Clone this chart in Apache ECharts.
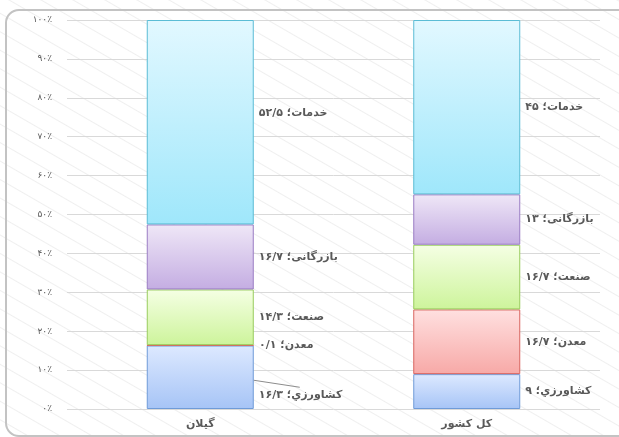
<!DOCTYPE html>
<html>
<head>
<meta charset="utf-8">
<script src="https://cdn.jsdelivr.net/npm/echarts@6/dist/echarts.min.js"></script>
<style>
  html, body { margin: 0; padding: 0; background: #fff; }
  #wrap {
    position: relative; width: 619px; height: 437px; overflow: hidden;
    background: repeating-linear-gradient(30deg, #fff 0px, #fff 14px, #efefef 15px, #fff 16px);
  }
  #frame {
    position: absolute; left: 5px; top: 9px; width: 650px; height: 424px;
    border: 2px solid #c3c3c3; border-radius: 14px;
  }
  #main { position: absolute; left: 0; top: 0; width: 619px; height: 437px; }
</style>
</head>
<body>
<div id="wrap">
  <div id="frame"></div>
  <div id="main"></div>
</div>
<script>
const categories = ['گیلان', 'کل کشور'];
const sectors = ['کشاورزي', 'معدن', 'صنعت', 'بازرگانی', 'خدمات'];
// raw shares per region, in sector order
const gilanValues = [16.3, 0.1, 14.3, 16.7, 52.5];
const countryValues = [9, 16.7, 16.7, 13, 45];
const gilanLabels = ['۱۶/۳', '۰/۱', '۱۴/۳', '۱۶/۷', '۵۲/۵'];
const countryLabels = ['۹', '۱۶/۷', '۱۶/۷', '۱۳', '۴۵'];
const yTicks = ['۰٪', '۱۰٪', '۲۰٪', '۳۰٪', '۴۰٪', '۵۰٪', '۶۰٪', '۷۰٪', '۸۰٪', '۹۰٪', '۱۰۰٪'];

const colors = [
  {top: '#dde9ff', bottom: '#a6c4f6', border: '#6f9bd8'},
  {top: '#ffe0e0', bottom: '#f7a9a7', border: '#d9645f'},
  {top: '#f5ffe4', bottom: '#cdf49b', border: '#98cc5c'},
  {top: '#efe7f7', bottom: '#c4ade2', border: '#9a7cc4'},
  {top: '#e2f8ff', bottom: '#9fe7fb', border: '#5bbcd5'}
];

const gilanSum = gilanValues.reduce((a, b) => a + b, 0);
const countrySum = countryValues.reduce((a, b) => a + b, 0);
const barW = 107;

const chart = echarts.init(document.getElementById('main'));

const series = sectors.map((name, i) => ({
  name: name,
  type: 'bar',
  stack: 'total',
  barWidth: barW,
  itemStyle: {
    color: new echarts.graphic.LinearGradient(0, 0, 0, 1, [
      {offset: 0, color: colors[i].top},
      {offset: 1, color: colors[i].bottom}
    ]),
    borderColor: colors[i].border,
    borderWidth: 1
  },
  label: {
    show: true,
    position: 'right',
    distance: 5,
    color: '#595959',
    fontFamily: 'DejaVu Sans',
    fontWeight: 'bold',
    fontSize: 11
  },
  data: [
    {
      value: gilanValues[i] / gilanSum * 100,
      label: {formatter: name + '؛ ' + gilanLabels[i]}
    },
    {
      value: countryValues[i] / countrySum * 100,
      label: {formatter: name + '؛ ' + countryLabels[i]}
    }
  ]
}));

chart.setOption({
  animation: false,
  grid: {left: 67, right: 19, top: 20, bottom: 28},
  xAxis: {
    type: 'category',
    data: categories,
    axisLine: {show: false},
    axisTick: {show: false},
    axisLabel: {
      color: '#595959',
      fontFamily: 'DejaVu Sans',
      fontWeight: 'bold',
      fontSize: 11,
      margin: 10
    }
  },
  yAxis: {
    type: 'value',
    min: 0,
    max: 100,
    interval: 10,
    axisLine: {show: false},
    axisTick: {show: false},
    splitLine: {lineStyle: {color: '#d9d9d9', width: 1}},
    axisLabel: {
      color: '#595959',
      fontFamily: 'DejaVu Sans',
      fontSize: 9,
      margin: 15,
      formatter: (v) => yTicks[Math.round(v / 10)]
    }
  },
  labelLayout: (params) => {
    if (params.seriesIndex === 0 && params.dataIndex === 0) return {dy: 18};
    if (params.seriesIndex === 4 && params.dataIndex === 0) return {dy: -9};
    return {};
  },
  series: series
});

// leader line for the moved Gilan agriculture label
const agriMid = gilanValues[0] / gilanSum * 100 / 2;
const bx = chart.convertToPixel({xAxisIndex: 0}, categories[0]) + barW / 2;
const by = chart.convertToPixel({yAxisIndex: 0}, agriMid) + 3;
chart.setOption({
  graphic: [{
    type: 'line',
    shape: {x1: bx, y1: by, x2: bx + 46, y2: by + 7},
    style: {stroke: '#8c8c8c', lineWidth: 1},
    z: 10
  }]
});
</script>
</body>
</html>
